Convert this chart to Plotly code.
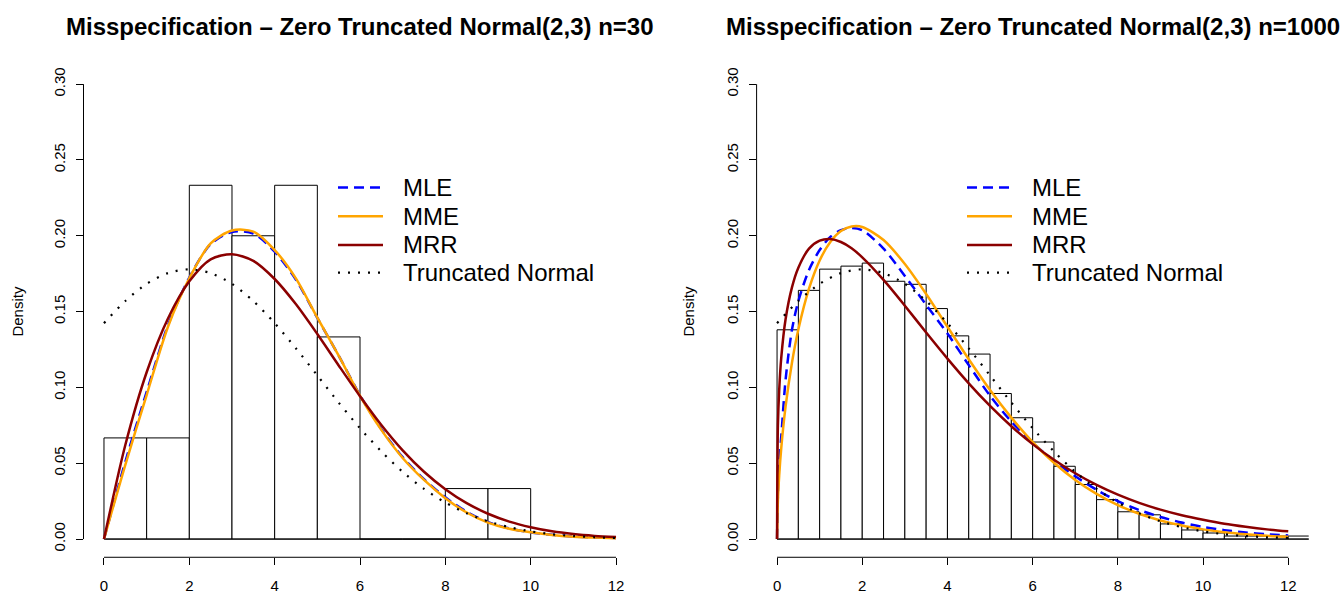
import plotly.graph_objects as go

W, H = 1342, 594
FONT = "Liberation Sans, Arial, Helvetica, sans-serif"

# ---------------- data ----------------
titles = ["Misspecification \u2013 Zero Truncated Normal(2,3) n=30",
          "Misspecification \u2013 Zero Truncated Normal(2,3) n=1000"]
legend_labels = ["MLE", "MME", "MRR", "Truncated Normal"]

x_tick_vals = [0, 2, 4, 6, 8, 10, 12]
y_tick_vals = [0.00, 0.05, 0.10, 0.15, 0.20, 0.25, 0.30]
y_tick_text = ["0.00", "0.05", "0.10", "0.15", "0.20", "0.25", "0.30"]

# left panel histogram (n=30)
left_bin_edges = [0, 1, 2, 3, 4, 5, 6, 7, 8, 9, 10]
left_density = [0.0667, 0.0667, 0.2333, 0.2000, 0.2333, 0.1333, 0.0, 0.0, 0.0333, 0.0333]

# right panel histogram (n=1000)
right_bin_edges = [0, 0.5, 1, 1.5, 2, 2.5, 3, 3.5, 4, 4.5, 5, 5.5, 6, 6.5, 7, 7.5,
                   8, 8.5, 9, 9.5, 10, 10.5, 11, 11.5, 12, 12.5]
right_density = [0.138, 0.164, 0.178, 0.180, 0.182, 0.170, 0.168, 0.152, 0.134, 0.122,
                 0.096, 0.080, 0.064, 0.048, 0.036, 0.026, 0.018, 0.016, 0.010, 0.006,
                 0.004, 0.002, 0.002, 0.002, 0.002]

# fitted density curves, left panel
left_curve_x = [0, 0.5, 1, 1.5, 2, 2.5, 3, 3.5, 4, 4.5, 5, 5.5, 6, 6.5, 7, 7.5,
                8, 8.5, 9, 9.5, 10, 10.5, 11, 11.5, 12]
left_mle = [0, 0.051, 0.097, 0.141, 0.1725, 0.1945, 0.2025, 0.2015, 0.1895, 0.171,
            0.1458, 0.121, 0.0948, 0.0725, 0.054, 0.0395, 0.0275, 0.018, 0.0112, 0.007,
            0.0044, 0.0028, 0.0017, 0.0011, 0.0007]
left_mme = [0, 0.049, 0.095, 0.140, 0.172, 0.195, 0.2035, 0.2028, 0.1906, 0.1718,
            0.146, 0.121, 0.0945, 0.072, 0.0535, 0.039, 0.027, 0.0175, 0.0108, 0.0068,
            0.0045, 0.0027, 0.0016, 0.0010, 0.0006]
left_mrr = [0, 0.062, 0.110, 0.1455, 0.170, 0.1845, 0.1878, 0.1835, 0.1715, 0.1548,
            0.1352, 0.1145, 0.0942, 0.0752, 0.0585, 0.0444, 0.0329, 0.0237, 0.0167, 0.0115,
            0.0078, 0.0051, 0.0033, 0.0021, 0.0013]

# fitted density curves, right panel
right_curve_x = [0, 0.02, 0.05, 0.1, 0.2, 0.35, 0.5, 0.75, 1, 1.25, 1.5, 1.75, 2, 2.5,
                 3, 3.5, 4, 4.5, 5, 5.5, 6, 6.5, 7, 7.5, 8, 8.5, 9, 9.5, 10, 10.5,
                 11, 11.5, 12]
right_mle = [0, 0.030, 0.050, 0.068, 0.105, 0.138, 0.157, 0.1775, 0.1906, 0.1993, 0.2037,
             0.2052, 0.2037, 0.1915, 0.1735, 0.1545, 0.1355, 0.1147, 0.0945, 0.0775,
             0.0635, 0.0515, 0.0414, 0.0325, 0.0250, 0.0192, 0.0146, 0.0109, 0.0080,
             0.0059, 0.0043, 0.0032, 0.0024]
right_mme = [0, 0.0255, 0.0417, 0.0605, 0.0873, 0.1163, 0.1382, 0.1651, 0.1837, 0.1959,
             0.2031, 0.2061, 0.2058, 0.1972, 0.1814, 0.1616, 0.1400, 0.1186, 0.0983,
             0.0801, 0.0640, 0.0503, 0.0390, 0.0298, 0.0224, 0.0167, 0.0123, 0.0089,
             0.0064, 0.0045, 0.0032, 0.0022, 0.0015]
right_mrr = [0, 0.075, 0.098, 0.120, 0.145, 0.166, 0.179, 0.1915, 0.1968, 0.1979, 0.1959,
             0.1918, 0.1858, 0.1709, 0.1539, 0.1362, 0.1190, 0.1027, 0.0878, 0.0744,
             0.0626, 0.0523, 0.0434, 0.0357, 0.0293, 0.0239, 0.0194, 0.0157, 0.0127,
             0.0101, 0.0081, 0.0064, 0.0051]

# true zero-truncated normal(2,3) density (same in both panels)
tn_x = [0, 0.5, 1, 1.5, 2, 2.5, 3, 3.5, 4, 4.5, 5, 5.5, 6, 6.5, 7, 7.5,
        8, 8.5, 9, 9.5, 10, 10.5, 11, 11.5, 12]
tn_density = [0.1424, 0.1570, 0.1683, 0.1754, 0.1779, 0.1754, 0.1683, 0.1570, 0.1424,
              0.1257, 0.1079, 0.0900, 0.0731, 0.0578, 0.0443, 0.0331, 0.0241, 0.0170,
              0.0117, 0.0078, 0.0051, 0.0032, 0.0020, 0.0012, 0.0007]

# ---------------- styles ----------------
styles = [
    dict(color="#0000FF", width=2.5, dash="10px,6px"),   # MLE
    dict(color="#FFA500", width=2.5, dash="solid"),      # MME
    dict(color="#8B0000", width=2.5, dash="solid"),      # MRR
    dict(color="#000000", width=2.2, dash="2px,8px"),    # Truncated normal
]

# ---------------- geometry (pixels) ----------------
x_dom = [[83.5 / W, 636.5 / W], [756.6 / W, 1308.7 / W]]
y_dom = [(H - 562.0) / H, (H - 66.5) / H]
x_range = [-0.48, 12.48]
y_range = [-0.012, 0.312]

fig = go.Figure()

panels = [
    dict(edges=left_bin_edges, dens=left_density, cx=left_curve_x,
         curves=[left_mle, left_mme, left_mrr], xa="x", ya="y"),
    dict(edges=right_bin_edges, dens=right_density, cx=right_curve_x,
         curves=[right_mle, right_mme, right_mrr], xa="x2", ya="y2"),
]

for p in panels:
    e = p["edges"]
    mids = [(e[i] + e[i + 1]) / 2 for i in range(len(e) - 1)]
    widths = [e[i + 1] - e[i] for i in range(len(e) - 1)]
    fig.add_trace(go.Bar(x=mids, y=p["dens"], width=widths,
                         marker=dict(color="white", line=dict(color="black", width=1)),
                         xaxis=p["xa"], yaxis=p["ya"], showlegend=False,
                         hoverinfo="skip"))
    # histogram baseline (covers zero-height bins)
    fig.add_trace(go.Scatter(x=[e[0], e[-1]], y=[0, 0], mode="lines",
                             line=dict(color="black", width=1),
                             xaxis=p["xa"], yaxis=p["ya"], showlegend=False,
                             hoverinfo="skip"))
    for name, yv, st in zip(legend_labels[:3], p["curves"], styles[:3]):
        fig.add_trace(go.Scatter(x=p["cx"], y=yv, mode="lines", name=name,
                                 line=dict(color=st["color"], width=st["width"],
                                           dash=st["dash"], shape="spline", smoothing=0.8),
                                 xaxis=p["xa"], yaxis=p["ya"], showlegend=False))
    st = styles[3]
    fig.add_trace(go.Scatter(x=tn_x, y=tn_density, mode="lines", name=legend_labels[3],
                             line=dict(color=st["color"], width=st["width"],
                                       dash=st["dash"], shape="spline", smoothing=0.8),
                             xaxis=p["xa"], yaxis=p["ya"], showlegend=False))

axis_common = dict(showgrid=False, zeroline=False, showline=False, ticks="outside",
                   ticklen=7, tickwidth=1, tickcolor="black",
                   tickfont=dict(family=FONT, size=15, color="black"))

layout = dict(
    width=W, height=H, margin=dict(l=0, r=0, t=0, b=0),
    paper_bgcolor="white", plot_bgcolor="white", showlegend=False,
    barmode="overlay",
)
for i, (xa, ya) in enumerate([("xaxis", "yaxis"), ("xaxis2", "yaxis2")]):
    anchor_y = "y" if i == 0 else "y2"
    anchor_x = "x" if i == 0 else "x2"
    layout[xa] = dict(axis_common, domain=x_dom[i], range=x_range, anchor=anchor_y,
                      tickvals=x_tick_vals, ticklabelstandoff=8)
    layout[ya] = dict(axis_common, domain=y_dom, range=y_range, anchor=anchor_x,
                      tickvals=y_tick_vals, ticktext=y_tick_text, tickangle=-90,
                      ticklabelstandoff=5)
fig.update_layout(**layout)

shapes = []
annotations = []
legend_pos = [dict(s0=338, s1=383, t=401), dict(s0=967, s1=1012, t=1030)]
row_y = [189, 218, 247, 275]
dens_x = [18, 689]

for i, (xr, yr) in enumerate([("x", "y"), ("x2", "y2")]):
    # R-style axis lines spanning only the tick range
    shapes.append(dict(type="line", xref=xr, yref=yr + " domain",
                       x0=x_tick_vals[0], x1=x_tick_vals[-1], y0=0, y1=0,
                       line=dict(color="black", width=1)))
    shapes.append(dict(type="line", xref=xr + " domain", yref=yr,
                       x0=0, x1=0, y0=y_tick_vals[0], y1=y_tick_vals[-1],
                       line=dict(color="black", width=1)))
    # title
    annotations.append(dict(text=titles[i], xref=xr + " domain", x=0.5, yref="paper",
                            y=1 - 27 / H, xanchor="center", yanchor="middle",
                            showarrow=False,
                            font=dict(family=FONT, size=24, color="black", weight="bold")))
    # y label
    annotations.append(dict(text="Density", xref="paper", x=dens_x[i] / W,
                            yref=yr + " domain", y=0.5, textangle=-90,
                            xanchor="center", yanchor="middle", showarrow=False,
                            font=dict(family=FONT, size=15, color="black")))
    # legend
    lp = legend_pos[i]
    for lab, st, ry in zip(legend_labels, styles, row_y):
        shapes.append(dict(type="line", xref="paper", yref="paper",
                           x0=lp["s0"] / W, x1=lp["s1"] / W,
                           y0=1 - ry / H, y1=1 - ry / H,
                           line=dict(color=st["color"], width=st["width"], dash=st["dash"])))
        annotations.append(dict(text=lab, xref="paper", yref="paper",
                                x=lp["t"] / W, y=1 - ry / H, xanchor="left",
                                yanchor="middle", showarrow=False,
                                font=dict(family=FONT, size=24, color="black")))

fig.update_layout(shapes=shapes, annotations=annotations)
fig.write_html("out.html",
               config={"displayModeBar": False},
               post_script="document.body.style.margin='0';document.body.style.overflow='hidden';")
